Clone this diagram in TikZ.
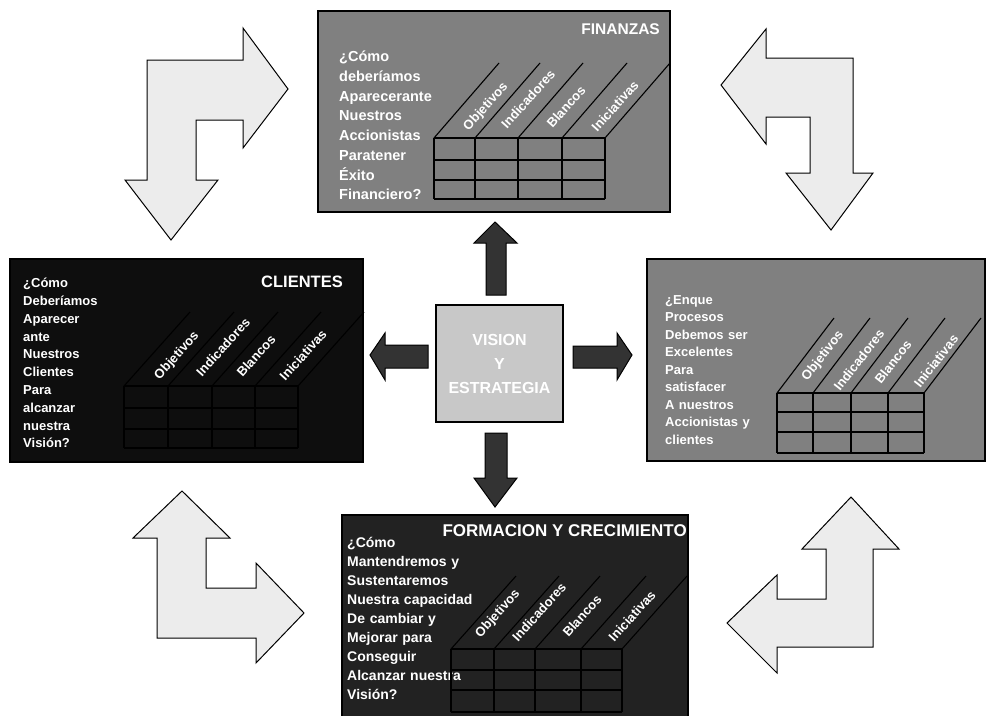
\documentclass[tikz,border=0pt]{standalone}
\usepackage{fontspec}
\setmainfont{Liberation Sans}
\definecolor{midgray}{RGB}{128,128,128}
\definecolor{darkbox}{RGB}{34,34,34}
\definecolor{blackbox}{RGB}{14,14,14}
\definecolor{centergray}{RGB}{200,200,200}
\definecolor{arrowdark}{RGB}{51,51,51}
\definecolor{lightarrow}{RGB}{236,236,236}
\tikzset{
  panel/.style={draw=black, line width=1.2pt, inner sep=0pt},
  gl/.style={draw=black, line width=1.1pt},
  bodytext/.style={text=white, align=left, inner sep=0pt, anchor=north west},
  titletext/.style={text=white, inner sep=0pt, anchor=base east, font=\bfseries\fontsize{#1}{#1}\selectfont},
  collabel/.style={text=white, inner sep=0pt, font=\bfseries\fontsize{13}{13}\selectfont},
  bigarrow/.style={draw=black, line width=1pt, fill=lightarrow, line join=miter},
  smallarrow/.style={draw=black, line width=1pt, fill=arrowdark, line join=miter}
}
\begin{document}
\begin{tikzpicture}[x=1pt, y=-1pt]
\useasboundingbox (0,0) rectangle (987,715);
\fill[white] (0,0) rectangle (987,715);

% ---------- corner arrows ----------
\draw[bigarrow] (147,60) -- (243,60) -- (243,28) -- (288,89) -- (243,148) -- (243,120) -- (196,120) -- (196,180) -- (218,180) -- (171,240) -- (125,180) -- (147,180) -- cycle;
\draw[bigarrow] (853,58) -- (766,58) -- (766,29) -- (721,85) -- (766,144) -- (766,117) -- (810,117) -- (810,173) -- (786,173) -- (831,230) -- (873,173) -- (853,173) -- cycle;
\draw[bigarrow] (157,638) -- (157,538) -- (133,538) -- (182,491) -- (230,538) -- (206,538) -- (206,588) -- (256,588) -- (256,563) -- (304,613) -- (256,663) -- (256,638) -- cycle;
\draw[bigarrow] (873,647) -- (873,549) -- (899,549) -- (851,497) -- (802,549) -- (826,549) -- (826,599) -- (777,599) -- (777,575) -- (727,623) -- (777,673) -- (777,647) -- cycle;

% ---------- panels ----------
\node[panel, fill=midgray, minimum width=352pt, minimum height=201pt] (fin) at (494,111.5) {};
\node[panel, fill=blackbox, minimum width=353pt, minimum height=203pt] (cli) at (186.5,360.5) {};
\node[panel, fill=midgray, minimum width=338pt, minimum height=202pt] (pro) at (816,360) {};
\node[panel, fill=darkbox, minimum width=346pt, minimum height=202pt] (for) at (515,616) {};
\node[panel, fill=centergray, minimum width=127pt, minimum height=117pt] (vis) at (499.5,363.5) {};

% ---------- central arrows ----------
\draw[smallarrow] (486,295) -- (486,243) -- (474,243) -- (495,222) -- (517,243) -- (506,243) -- (506,295) -- cycle;
\draw[smallarrow] (485,433) -- (507,433) -- (507,478) -- (517,478) -- (495,507) -- (474,478) -- (485,478) -- cycle;
\draw[smallarrow] (428,345) -- (385,345) -- (385,333) -- (370,355) -- (385,380) -- (385,368) -- (428,368) -- cycle;
\draw[smallarrow] (573,346) -- (617,346) -- (617,333) -- (632,355) -- (617,380) -- (617,368) -- (573,368) -- cycle;

\node[text=white, align=center, inner sep=0pt, font=\bfseries\fontsize{16}{24}\selectfont] (vistext) at (499.5,364) {VISION\\Y\\ESTRATEGIA};

% ---------- FINANZAS ----------
\node[titletext=15.5] (fintitle) at (660,34) {FINANZAS};
\node[bodytext, text width=100pt, font=\bfseries\fontsize{14.5}{19.7}\selectfont] (finq) at (339,51) {¿Cómo\\deberíamos\\Aparecerante\\Nuestros\\Accionistas\\Paratener\\Éxito\\Financiero?};
\foreach \x in {434,475,518,562,605} { \draw[gl] (\x,138) -- (\x,199); \draw[gl] (\x,138) -- ++(65,-75); }
\foreach \y in {138,160,180,199} \draw[gl] (434,\y) -- (605,\y);
\node[collabel, rotate=48] (f1) at (486,107) {Objetivos};
\node[collabel, rotate=48] (f2) at (528,99) {Indicadores};
\node[collabel, rotate=48] (f3) at (566,107) {Blancos};
\node[collabel, rotate=48] (f4) at (615,106) {Iniciativas};

% ---------- CLIENTES ----------
\node[titletext=16.5] (clititle) at (343,287) {CLIENTES};
\node[bodytext, text width=100pt, font=\bfseries\fontsize{13}{17.8}\selectfont] (cliq) at (23,278) {¿Cómo\\Deberíamos\\Aparecer\\ante\\Nuestros\\Clientes\\Para\\alcanzar\\nuestra\\Visión?};
\foreach \x in {124,168,212,255,298} { \draw[gl] (\x,386) -- (\x,448); \draw[gl] (\x,386) -- ++(66,-74); }
\foreach \y in {386,408,429,448} \draw[gl] (124,\y) -- (298,\y);
\node[collabel, rotate=48] (c1) at (177,356) {Objetivos};
\node[collabel, rotate=48] (c2) at (223,347) {Indicadores};
\node[collabel, rotate=48] (c3) at (256,356) {Blancos};
\node[collabel, rotate=48] (c4) at (303,355) {Iniciativas};

% ---------- PROCESOS ----------
\node[bodytext, text width=110pt, font=\bfseries\fontsize{13}{17.5}\selectfont] (proq) at (665,295) {¿Enque\\Procesos\\Debemos ser\\Excelentes\\Para\\satisfacer\\A nuestros\\Accionistas y\\clientes};
\foreach \x in {777,813,851,888,924} { \draw[gl] (\x,393) -- (\x,453); \draw[gl] (\x,393) -- ++(57,-75); }
\foreach \y in {393,412,432,453} \draw[gl] (777,\y) -- (924,\y);
\node[collabel, rotate=52] (p1) at (823,356) {Objetivos};
\node[collabel, rotate=52] (p2) at (859,360) {Indicadores};
\node[collabel, rotate=52] (p3) at (893,362) {Blancos};
\node[collabel, rotate=52] (p4) at (936,361) {Iniciativas};

% ---------- FORMACION ----------
\node[titletext=17] (fortitle) at (687,536) {FORMACION Y CRECIMIENTO};
\node[bodytext, text width=140pt, font=\bfseries\fontsize{14}{19}\selectfont] (forq) at (347,537) {¿Cómo\\Mantendremos y\\Sustentaremos\\Nuestra capacidad\\De cambiar y\\Mejorar para\\Conseguir\\Alcanzar nuestra\\Visión?};
\foreach \x in {451,494,535,581,622} { \draw[gl] (\x,649) -- (\x,712); \draw[gl] (\x,649) -- ++(65,-73); }
\foreach \y in {649,670,690,712} \draw[gl] (451,\y) -- (622,\y);
\node[collabel, rotate=48] (b1) at (498,614) {Objetivos};
\node[collabel, rotate=48] (b2) at (539,612) {Indicadores};
\node[collabel, rotate=48] (b3) at (582,616) {Blancos};
\node[collabel, rotate=48] (b4) at (632,616) {Iniciativas};
\end{tikzpicture}
\end{document}
